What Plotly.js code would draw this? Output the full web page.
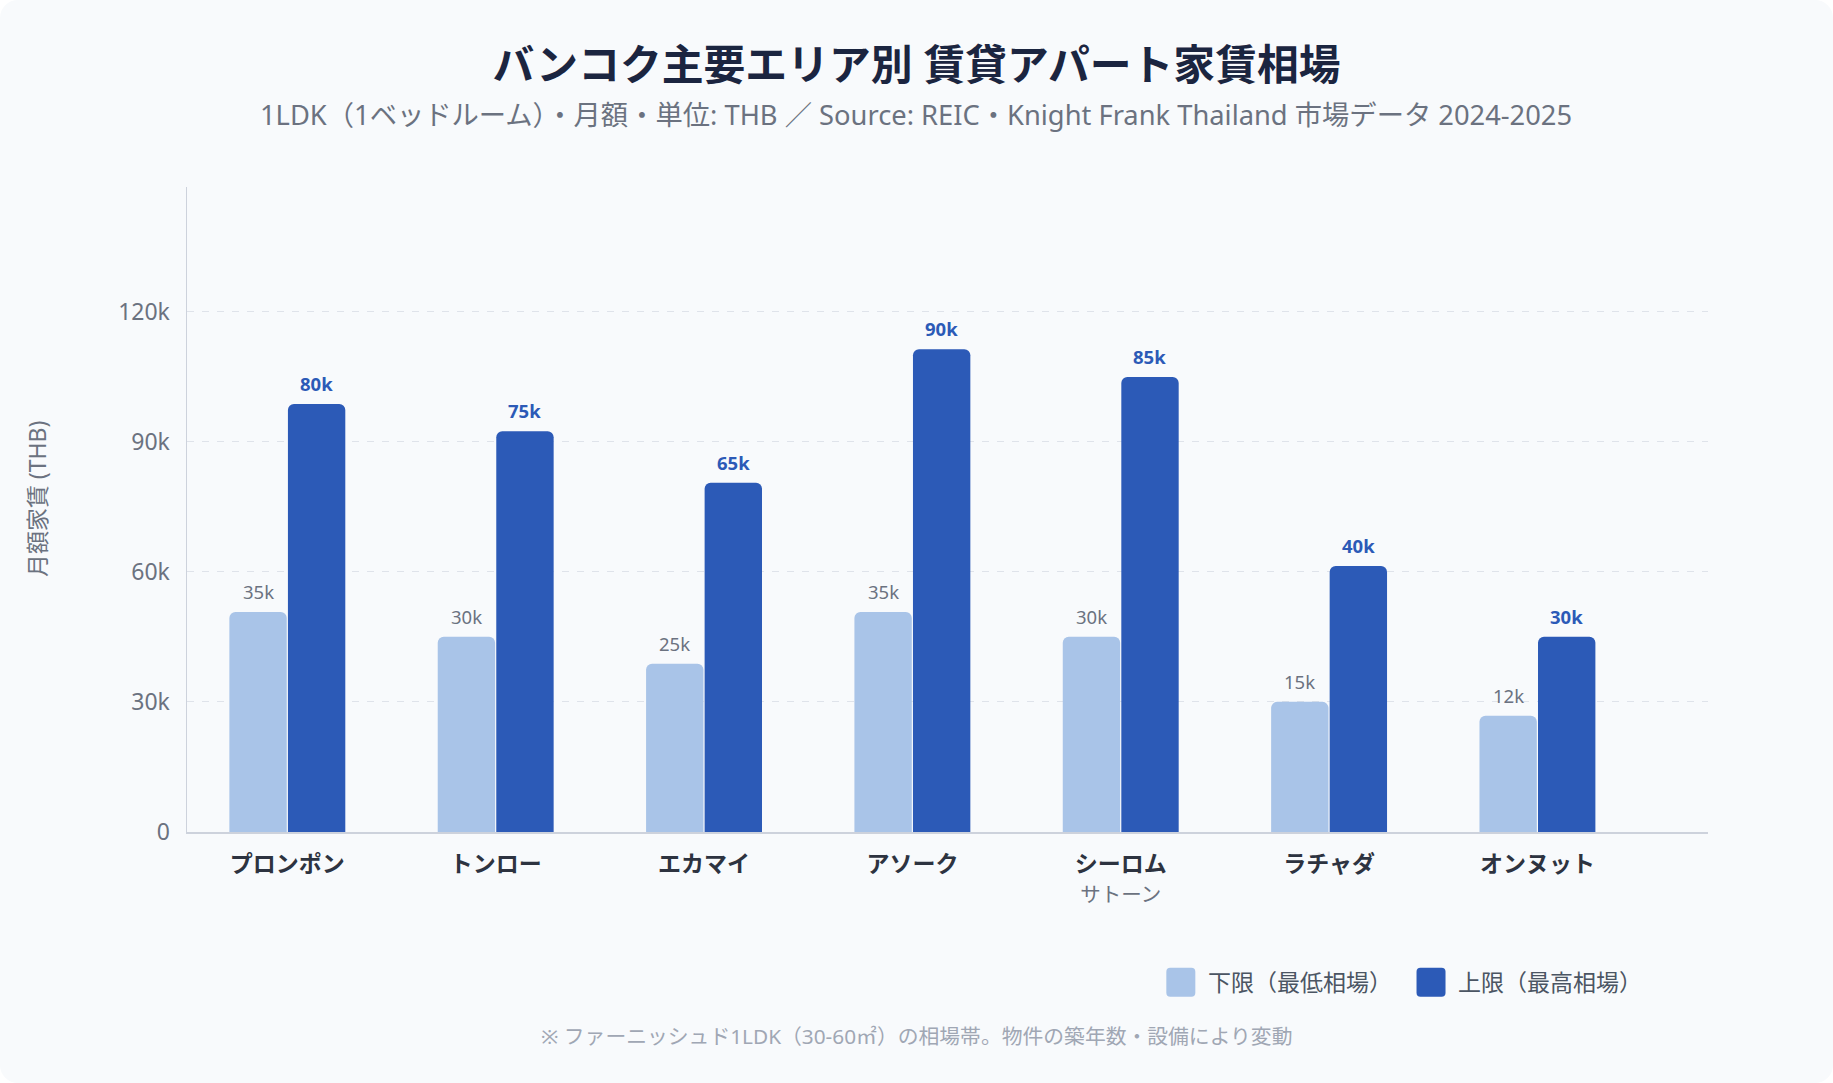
<!DOCTYPE html>
<html>
<head>
<meta charset="utf-8">
<script src="https://cdn.plot.ly/plotly-3.0.1.min.js"></script>
<style>
  html, body { margin: 0; padding: 0; background: #ffffff; }
  #card { width: 1833px; height: 1083px; background: #f8fafc; border-radius: 18px; overflow: hidden; }
  #chart { width: 1833px; height: 1083px; }
</style>
</head>
<body>
<div id="card"><div id="chart"></div></div>
<script>
// ---- data ----
const areas = ['プロンポン', 'トンロー', 'エカマイ', 'アソーク', 'シーロム', 'ラチャダ', 'オンヌット'];
const areaSubLabels = ['', '', '', '', 'サトーン', '', ''];
// bar heights as read against the y axis
const lowerValues = [50.7, 45.0, 38.8, 50.7, 45.0, 30.0, 26.8];
const upperValues = [98.7, 92.4, 80.5, 111.3, 104.9, 61.3, 45.0];
// value labels printed above the bars
const lowerLabels = ['35k', '30k', '25k', '35k', '30k', '15k', '12k'];
const upperLabels = ['80k', '75k', '65k', '90k', '85k', '40k', '30k'];
const yTickVals = [0, 30, 60, 90, 120];
const yTickText = ['0', '30k', '60k', '90k', '120k'];
const seriesNames = ['下限（最低相場）', '上限（最高相場）'];

const FONT = "'Noto Sans', 'Noto Sans CJK JP', sans-serif";
const LIGHT = '#a9c4e8';
const DARK = '#2c5ab7';

const tickText = areas.map((a, i) => areaSubLabels[i]
  ? '<b>' + a + '</b><br><span style="font-size:20.5px;color:#6b7280">' + areaSubLabels[i] + '</span>'
  : '<b>' + a + '</b>');

const traces = [
  { type: 'bar', name: seriesNames[0], x: areas, y: lowerValues,
    marker: { color: LIGHT, cornerradius: 6 }, hoverinfo: 'skip' },
  { type: 'bar', name: seriesNames[1], x: areas, y: upperValues,
    marker: { color: DARK, cornerradius: 6 }, hoverinfo: 'skip' }
];

const OFF = 0.1404;
const annotations = [];
areas.forEach((a, i) => {
  annotations.push({ x: i - OFF, y: lowerValues[i], xref: 'x', yref: 'y', text: lowerLabels[i],
    showarrow: false, yanchor: 'bottom', yshift: 6,
    font: { family: FONT, size: 18.5, color: '#6b7280' } });
  annotations.push({ x: i + OFF, y: upperValues[i], xref: 'x', yref: 'y', text: '<b>' + upperLabels[i] + '</b>',
    showarrow: false, yanchor: 'bottom', yshift: 6,
    font: { family: FONT, size: 18.5, color: DARK } });
});
// subtitle
annotations.push({ xref: 'paper', yref: 'paper', x: 0.4796, y: 1.1121, yanchor: 'middle', showarrow: false,
  text: '1LDK（1ベッドルーム）・月額・単位: THB ／ Source: REIC・Knight Frank Thailand 市場データ 2024-2025',
  font: { family: FONT, size: 27.3, color: '#6b7280' } });
// y axis title
annotations.push({ xref: 'paper', yref: 'paper', x: -0.0989, y: 0.517, xanchor: 'center', yanchor: 'middle',
  textangle: -90, showarrow: false,
  text: '月額家賃 (THB)', font: { family: FONT, size: 23, color: '#6b7280' } });
// footnote
annotations.push({ xref: 'paper', yref: 'paper', x: 0.4796, y: -0.3162, yanchor: 'middle', showarrow: false,
  text: '※ ファーニッシュド1LDK（30-60㎡）の相場帯。物件の築年数・設備により変動',
  font: { family: FONT, size: 20.8, color: '#a0a7b4' } });
// legend
const legendX = [0.6534, 0.8179];
const legendTextX = [0.6700, 0.8342];
const legendColors = [LIGHT, DARK];
const shapes = [];
const sw = 'M -10.5,-14.5 H 10.5 Q 14.5,-14.5 14.5,-10.5 V 10.5 Q 14.5,14.5 10.5,14.5 H -10.5 Q -14.5,14.5 -14.5,10.5 V -10.5 Q -14.5,-14.5 -10.5,-14.5 Z';
seriesNames.forEach((n, k) => {
  shapes.push({ type: 'path', xref: 'paper', yref: 'paper', xsizemode: 'pixel', ysizemode: 'pixel',
    xanchor: legendX[k], yanchor: -0.233, path: sw, fillcolor: legendColors[k], line: { width: 0 } });
  annotations.push({ xref: 'paper', yref: 'paper', x: legendTextX[k], y: -0.233, xanchor: 'left', yanchor: 'middle',
    showarrow: false, text: n, font: { family: FONT, size: 23, color: '#4b5563' } });
});

const layout = {
  width: 1833, height: 1083,
  paper_bgcolor: 'rgba(0,0,0,0)', plot_bgcolor: 'rgba(0,0,0,0)',
  font: { family: FONT },
  margin: { l: 187.3, r: 125.3, t: 187.3, b: 250.5, pad: 0 },
  title: { text: 'バンコク主要エリア別 賃貸アパート家賃相場', x: 0.5, xref: 'container', y: 0.9395, yref: 'container', yanchor: 'middle',
    font: { family: FONT, size: 41.8, weight: 700, color: '#1b2540' } },
  showlegend: false,
  barmode: 'group', bargap: 0.438, bargroupgap: 0.02,
  xaxis: { type: 'category', range: [-0.4816, 6.8187], tickvals: areas, ticktext: tickText,
    showline: true, linecolor: '#cdd2dc', linewidth: 2, showgrid: false, ticks: '', ticklabelstandoff: 10,
    tickfont: { family: FONT, size: 23, color: '#2d3340' }, fixedrange: true },
  yaxis: { range: [0, 148.7], tickvals: yTickVals, ticktext: yTickText,
    showline: true, linecolor: '#cdd2dc', linewidth: 1.5, showgrid: true, gridcolor: '#dfe3ea', gridwidth: 1,
    griddash: '7px,8px', zeroline: false, ticks: '', ticklabelstandoff: 11,
    tickfont: { family: FONT, size: 23, color: '#6b7280' }, fixedrange: true },
  annotations: annotations,
  shapes: shapes
};

Plotly.newPlot('chart', traces, layout, { displayModeBar: false, staticPlot: true });
</script>
</body>
</html>
